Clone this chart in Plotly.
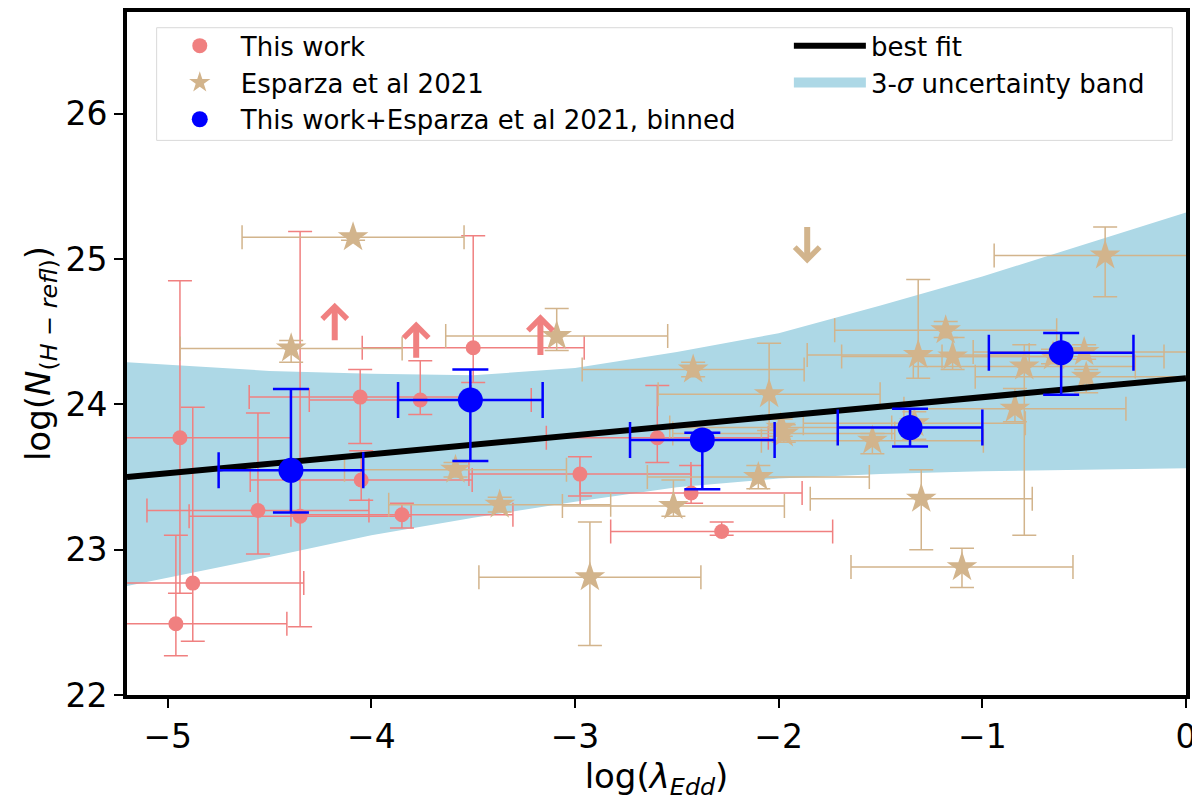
import plotly.graph_objects as go

PINK = "#F08080"
TAN = "#D2B48C"
BLUE = "#0000FF"
BAND = "#ADD8E6"

# This work (circles)
tw_x = [-4.94, -4.877, -4.96, -4.557, -4.35, -4.055, -3.76, -4.05, -3.85, -3.50,
        -2.976, -2.596, -2.43, -2.28]
tw_y = [23.77, 22.77, 22.49, 23.27, 23.23, 24.05, 24.03, 23.48, 23.24, 24.39,
        23.52, 23.77, 23.39, 23.125]
tw_up = [1.08, 1.21, 0.61, 0.67, 1.96, 0.19, 0.27, 0.20, 0.08, 0.77,
         0.12, 0.36, 0.19, 0.065]
tw_lo = [1.07, 0.40, 0.22, 0.30, 0.76, 0.32, 0.10, 0.14, 0.09, 0.24,
         0.15, 0.17, 0.07, 0.025]
tw_lim_x = [-4.18, -3.78, -3.17]
tw_lim_from = [24.43, 24.31, 24.33]
tw_lim_to = [24.70, 24.57, 24.62]

# Esparza et al 2021 (stars)
es_x = [-4.09, -4.394, -3.09, -2.42, -2.047, -1.99, -1.975, -3.587, -3.37, -2.927,
        -2.517, -2.10, -0.397, -1.18, -1.315, -1.146, -0.794, -0.50, -0.49, -0.653,
        -0.84, -1.30, -1.10, -1.54, -1.334]
es_y = [25.15, 24.385, 24.47, 24.24, 24.07, 23.84, 23.80, 23.55, 23.31, 22.81,
        23.30, 23.50, 25.025, 24.51, 24.34, 24.33, 24.26, 24.36, 24.19, 24.33,
        23.97, 23.35, 22.88, 23.75, 23.87]
es_up = [0.02, 0.055, 0.19, 0.05, 0.35, 0.06, 0.06, 0.05, 0.05, 0.38,
         0.18, 0.08, 0.195, 0.06, 0.52, 0.13, 0.15, 0.05, 0.05, 0.05,
         0.14, 0.20, 0.13, 0.05, 0.08]
es_lo = [0.02, 0.095, 0.10, 0.05, 0.25, 0.06, 0.06, 0.05, 0.05, 0.47,
         0.07, 0.08, 0.285, 0.05, 0.16, 0.09, 1.16, 0.05, 0.11, 0.05,
         0.09, 0.35, 0.14, 0.09, 0.11]
es_lim_x = [-1.86]
es_lim_from = [25.23]
es_lim_to = [24.97]
XERR = 0.545

# binned
bin_x = [-4.395, -3.514, -2.375, -1.355, -0.613]
bin_y = [23.546, 24.03, 23.755, 23.84, 24.356]
bin_up = [0.56, 0.21, 0.05, 0.13, 0.135]
bin_lo = [0.29, 0.42, 0.34, 0.13, 0.29]
BIN_XERR = 0.355

# best fit and 3-sigma band
fit_x = [-5.2, 0.0]
fit_y = [23.50, 24.18]
band_x = [-5.2, -4.5, -4.0, -3.5, -3.0, -2.5, -2.0, -1.5, -1.0, -0.5, 0.0]
band_hi = [24.29, 24.23, 24.21, 24.20, 24.25, 24.36, 24.49, 24.68, 24.88, 25.10, 25.32]
band_lo = [22.75, 22.95, 23.10, 23.22, 23.33, 23.43, 23.49, 23.52, 23.54, 23.55, 23.56]

fig = go.Figure()

# band (legend entry drawn by a dummy thick line so it looks like a patch)
fig.add_trace(go.Scatter(x=band_x, y=band_lo, mode="lines", line=dict(width=0),
                         showlegend=False, hoverinfo="skip"))
fig.add_trace(go.Scatter(x=band_x, y=band_hi, mode="lines", line=dict(width=0),
                         fill="tonexty", fillcolor=BAND, showlegend=False, hoverinfo="skip"))

fig.add_trace(go.Scatter(
    x=tw_x, y=tw_y, mode="markers", name="This work",
    marker=dict(color=PINK, size=15, symbol="circle"),
    error_x=dict(type="constant", value=XERR, color=PINK, thickness=1.5, width=12),
    error_y=dict(type="data", array=tw_up, arrayminus=tw_lo, color=PINK, thickness=1.5, width=12),
    legendgroup="a"))

fig.add_trace(go.Scatter(
    x=es_x, y=es_y, mode="markers", name="Esparza et al 2021",
    marker=dict(color=TAN, size=23, symbol="star"),
    error_x=dict(type="constant", value=XERR, color=TAN, thickness=1.5, width=12),
    error_y=dict(type="data", array=es_up, arrayminus=es_lo, color=TAN, thickness=1.5, width=12),
    legendgroup="b"))

fig.add_trace(go.Scatter(x=fit_x, y=fit_y, mode="lines", name="best fit",
                         line=dict(color="black", width=6),
                         legend="legend2", legendgroup="d"))

fig.add_trace(go.Scatter(
    x=bin_x, y=bin_y, mode="markers", name="This work+Esparza et al 2021, binned",
    marker=dict(color=BLUE, size=25, symbol="circle"),
    error_x=dict(type="constant", value=BIN_XERR, color=BLUE, thickness=2.5, width=18),
    error_y=dict(type="data", array=bin_up, arrayminus=bin_lo, color=BLUE, thickness=2.5, width=18),
    legendgroup="c"))

fig.add_trace(go.Scatter(x=[None], y=[None], mode="lines", name="3-<i>σ</i> uncertainty band",
                         line=dict(color=BAND, width=20), legend="legend2", legendgroup="e"))

# limit arrows
for xs, y0s, y1s, col in [(tw_lim_x, tw_lim_from, tw_lim_to, PINK),
                          (es_lim_x, es_lim_from, es_lim_to, TAN)]:
    for x, y0, y1 in zip(xs, y0s, y1s):
        fig.add_annotation(x=x, y=y1, ax=x, ay=y0, xref="x", yref="y", axref="x", ayref="y",
                           text="", showarrow=True, arrowhead=4, arrowsize=0.8,
                           arrowwidth=6, arrowcolor=col)

# legend frame spanning both columns
fig.add_shape(type="rect", xref="paper", yref="paper", x0=0.028, x1=0.987, y0=0.812, y1=0.977,
              line=dict(color="#d9d9d9", width=1), fillcolor="white", layer="below")

# the page body adds an 8px margin, so the figure is 8px smaller than the window
font = "DejaVu Sans"
fig.update_layout(
    width=1192, height=797,
    margin=dict(l=119, r=14, t=4, b=110),
    plot_bgcolor="white", paper_bgcolor="white",
    font=dict(family=font, color="black"),
    legend=dict(x=0.03, y=0.985, xanchor="left", yanchor="top", bgcolor="rgba(0,0,0,0)",
                font=dict(size=26), traceorder="grouped", tracegroupgap=0, itemwidth=72),
    legend2=dict(x=0.625, y=0.985, xanchor="left", yanchor="top", bgcolor="rgba(0,0,0,0)",
                 font=dict(size=26), traceorder="grouped", tracegroupgap=0, itemwidth=72),
)
fig.update_xaxes(range=[-5.2, 0], dtick=1, tick0=0, showgrid=False, zeroline=False,
                 showline=True, linewidth=4, linecolor="black", mirror=True,
                 ticks="outside", ticklen=9, tickwidth=2, tickcolor="black",
                 tickfont=dict(size=33), automargin=False,
                 title=dict(text="log(<i>λ</i><sub><i>Edd</i></sub>)", font=dict(size=34), standoff=0))
fig.update_yaxes(range=[22, 26.7], dtick=1, tick0=22, showgrid=False, zeroline=False,
                 showline=True, linewidth=4, linecolor="black", mirror=True,
                 ticks="outside", ticklen=9, tickwidth=2, tickcolor="black",
                 tickfont=dict(size=33), automargin=False,
                 title=dict(text="log(<i>N</i><sub>(<i>H</i> − <i>refl</i>)</sub>)", font=dict(size=34), standoff=6))

fig.write_html("out.html")
